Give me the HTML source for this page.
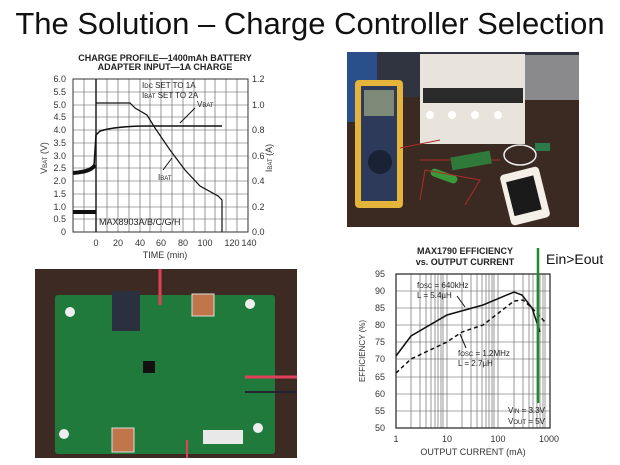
<!DOCTYPE html>
<html><head><meta charset="utf-8"><style>
html,body{margin:0;padding:0;background:#fff;width:620px;height:465px;overflow:hidden}
svg{display:block}
</style></head><body>
<svg width="620" height="465" viewBox="0 0 620 465" xmlns="http://www.w3.org/2000/svg" font-family="Liberation Sans, sans-serif">
<text x="310" y="34" text-anchor="middle" font-size="31" fill="#111">The Solution – Charge Controller Selection</text>

<!-- Chart 1 -->
<g font-family="Liberation Sans Narrow, Liberation Sans, sans-serif">
<text x="165" y="61" text-anchor="middle" font-size="9" font-weight="bold" fill="#222">CHARGE PROFILE—1400mAh BATTERY</text>
<text x="165" y="70" text-anchor="middle" font-size="9" font-weight="bold" fill="#222">ADAPTER INPUT—1A CHARGE</text>
<g stroke="#555" stroke-width="0.6">
<path d="M73 79V232M84 79V232M107 79V232M118 79V232M129 79V232M140 79V232M150 79V232M161 79V232M172 79V232M183 79V232M194 79V232M205 79V232M215 79V232M226 79V232M237 79V232"/>
<path d="M73 92H248M73 105H248M73 117H248M73 130H248M73 143H248M73 156H248M73 168H248M73 181H248M73 194H248M73 207H248M73 219H248"/>
</g>
<rect x="73" y="79" width="175" height="153" fill="none" stroke="#333" stroke-width="1"/>
<line x1="96" y1="79" x2="96" y2="232" stroke="#222" stroke-width="1.5"/>
<g font-size="9" fill="#333" text-anchor="end">
<text x="66" y="82">6.0</text><text x="66" y="95">5.5</text><text x="66" y="108">5.0</text><text x="66" y="120">4.5</text><text x="66" y="133">4.0</text><text x="66" y="146">3.5</text><text x="66" y="159">3.0</text><text x="66" y="171">2.5</text><text x="66" y="184">2.0</text><text x="66" y="197">1.5</text><text x="66" y="210">1.0</text><text x="66" y="222">0.5</text><text x="66" y="235">0</text>
</g>
<g font-size="9" fill="#333">
<text x="252" y="82">1.2</text><text x="252" y="108">1.0</text><text x="252" y="133">0.8</text><text x="252" y="159">0.6</text><text x="252" y="184">0.4</text><text x="252" y="210">0.2</text><text x="252" y="235">0.0</text>
</g>
<g font-size="9" fill="#333" text-anchor="middle">
<text x="96" y="246">0</text><text x="118" y="246">20</text><text x="140" y="246">40</text><text x="161" y="246">60</text><text x="183" y="246">80</text><text x="205" y="246">100</text><text x="232" y="246">120</text><text x="249" y="246">140</text>
<text x="165" y="258">TIME (min)</text>
</g>
<text transform="translate(47 158) rotate(-90)" font-size="9" fill="#333" text-anchor="middle">V<tspan font-size="6">BAT</tspan> (V)</text>
<text transform="translate(272 158) rotate(-90)" font-size="9" fill="#333" text-anchor="middle">I<tspan font-size="6">BAT</tspan> (A)</text>
<path d="M73 173C85 172 92 170 94 166L96 135L100 131C110 128 125 126 150 126L222 126" fill="none" stroke="#111" stroke-width="1.5"/>
<path d="M73 173C85 172 92 170 95 165" fill="none" stroke="#111" stroke-width="4"/>
<path d="M73 212H96" stroke="#111" stroke-width="4"/>
<path d="M96 103H130L135 108L147 115L155 128L170 150L185 170L200 186L218 196L222 200V232" fill="none" stroke="#111" stroke-width="1.2"/>
<text x="142" y="88" font-size="8" fill="#222">I<tspan font-size="6">DC</tspan> SET TO 1A</text>
<text x="142" y="98" font-size="8" fill="#222">I<tspan font-size="6">BAT</tspan> SET TO 2A</text>
<text x="197" y="107" font-size="8" fill="#222">V<tspan font-size="6">BAT</tspan></text>
<path d="M195 108L180 123" stroke="#111"/>
<text x="158" y="180" font-size="8" fill="#222">I<tspan font-size="6">BAT</tspan></text>
<path d="M163 170L172 158" stroke="#111"/>
<text x="99" y="225" font-size="9" fill="#222">MAX8903A/B/C/G/H</text>
</g>

<!-- Top-right photo -->
<g>
<rect x="347" y="52" width="232" height="175" fill="#3a2a22"/>
<rect x="347" y="52" width="232" height="45" fill="#2f3440"/>
<rect x="347" y="52" width="30" height="70" fill="#2a4f8a"/>
<rect x="525" y="55" width="54" height="45" fill="#8a8a8c"/>
<rect x="420" y="54" width="105" height="90" fill="#e8e4dc"/>
<rect x="423" y="88" width="100" height="15" fill="#2a2a2a"/>
<circle cx="430" cy="115" r="4" fill="#fff"/><circle cx="452" cy="115" r="4" fill="#fff"/><circle cx="475" cy="115" r="4" fill="#fff"/><circle cx="498" cy="115" r="4" fill="#fff"/>
<rect x="355" y="80" width="48" height="128" rx="4" fill="#e4b53a"/>
<rect x="361" y="86" width="36" height="115" fill="#2d3a5a"/>
<rect x="364" y="90" width="30" height="26" fill="#7d8a78"/>
<circle cx="380" cy="162" r="12" fill="#1a2236"/>
<path d="M400 148L440 140M420 160L500 160" stroke="#b02a2a" stroke-width="1"/>
<rect x="451" y="154" width="40" height="13" fill="#2f7a3a" transform="rotate(-10 471 160)"/>
<rect x="430" y="172" width="28" height="8" rx="4" fill="#3a9a3a" transform="rotate(20 444 176)"/>
<path d="M420 200L425 170L480 180L465 205" fill="none" stroke="#b02a2a"/>
<ellipse cx="520" cy="155" rx="16" ry="10" fill="none" stroke="#eee" stroke-width="1.5"/>
<rect x="505" y="170" width="40" height="52" rx="4" fill="#f4f0e8" transform="rotate(-14 525 196)"/>
<rect x="510" y="178" width="28" height="35" fill="#1a1a1a" transform="rotate(-14 525 196)"/>
<rect x="535" y="143" width="15" height="8" fill="#2a7a4a"/>
</g>

<!-- Bottom-left photo -->
<g>
<rect x="35" y="269" width="262" height="189" fill="#3d2a22"/>
<rect x="55" y="295" width="220" height="159" rx="3" fill="#1f7a3c"/>
<rect x="112" y="291" width="28" height="40" fill="#2a3040"/>
<rect x="192" y="294" width="22" height="22" fill="#c0764a" stroke="#ddd"/>
<rect x="112" y="428" width="22" height="24" fill="#c0764a" stroke="#ddd"/>
<rect x="203" y="430" width="40" height="14" fill="#e8e8e8"/>
<rect x="143" y="361" width="12" height="12" fill="#111"/>
<circle cx="70" cy="312" r="5" fill="#eee"/><circle cx="250" cy="304" r="5" fill="#eee"/><circle cx="64" cy="434" r="5" fill="#eee"/><circle cx="258" cy="428" r="5" fill="#eee"/>
<path d="M160 269V305" stroke="#e0405a" stroke-width="3"/>
<path d="M245 377H297" stroke="#e0405a" stroke-width="3"/>
<path d="M245 392H297" stroke="#223" stroke-width="2"/>
<path d="M187 440V458" stroke="#e0405a" stroke-width="2"/>
</g>

<!-- Chart 2 -->
<g font-family="Liberation Sans Narrow, Liberation Sans, sans-serif">
<text x="465" y="254" text-anchor="middle" font-size="9" font-weight="bold" fill="#222">MAX1790 EFFICIENCY</text>
<text x="465" y="265" text-anchor="middle" font-size="9" font-weight="bold" fill="#222">vs. OUTPUT CURRENT</text>
<g stroke="#555" stroke-width="0.6">
<path d="M396 291H550M396 308H550M396 325H550M396 342H550M396 359H550M396 377H550M396 394H550M396 411H550"/>
<path d="M411 274V428M420 274V428M426 274V428M431 274V428M435 274V428M438 274V428M441 274V428M443 274V428M447 274V428M462 274V428M471 274V428M477 274V428M482 274V428M486 274V428M489 274V428M492 274V428M494 274V428M498 274V428M514 274V428M523 274V428M529 274V428M533 274V428M537 274V428M540 274V428M543 274V428M545 274V428"/>
</g>
<rect x="396" y="274" width="154" height="154" fill="none" stroke="#222" stroke-width="1.2"/>
<g font-size="9" fill="#333" text-anchor="end">
<text x="385" y="277">95</text><text x="385" y="294">90</text><text x="385" y="311">85</text><text x="385" y="328">80</text><text x="385" y="345">75</text><text x="385" y="362">70</text><text x="385" y="380">65</text><text x="385" y="397">60</text><text x="385" y="414">55</text><text x="385" y="431">50</text>
</g>
<g font-size="9" fill="#333" text-anchor="middle">
<text x="396" y="442">1</text><text x="447" y="442">10</text><text x="498" y="442">100</text><text x="549" y="442">1000</text>
<text x="473" y="455">OUTPUT CURRENT (mA)</text>
</g>
<text transform="translate(365 351) rotate(-90)" font-size="8" fill="#333" text-anchor="middle">EFFICIENCY (%)</text>
<path d="M396 356L411 336L447 315L483 305L514 292L522 295L532 308L540 332" fill="none" stroke="#111" stroke-width="1.5"/>
<path d="M396 373L411 359L447 342L462 332L483 325L514 301L523 300L532 308L545 322" fill="none" stroke="#111" stroke-width="1.5" stroke-dasharray="4,3"/>
<text x="417" y="288" font-size="8" fill="#222">f<tspan font-size="6">OSC</tspan> = 640kHz</text>
<text x="417" y="298" font-size="8" fill="#222">L = 5.4µH</text>
<path d="M457 296L465 307" stroke="#111"/>
<text x="458" y="356" font-size="8" fill="#222">f<tspan font-size="6">OSC</tspan> = 1.2MHz</text>
<text x="458" y="366" font-size="8" fill="#222">L = 2.7µH</text>
<path d="M466 348L460 334" stroke="#111"/>
<text x="508" y="413" font-size="8" fill="#222">V<tspan font-size="6">IN</tspan> = 3.3V</text>
<text x="508" y="424" font-size="8" fill="#222">V<tspan font-size="6">OUT</tspan> = 5V</text>
<line x1="538" y1="248" x2="538" y2="403" stroke="#1e8a2e" stroke-width="2.5"/>
<text x="546" y="264" font-size="14" fill="#111" font-family="Liberation Sans, sans-serif">Ein&gt;Eout</text>
</g>
</svg>
</body></html>
